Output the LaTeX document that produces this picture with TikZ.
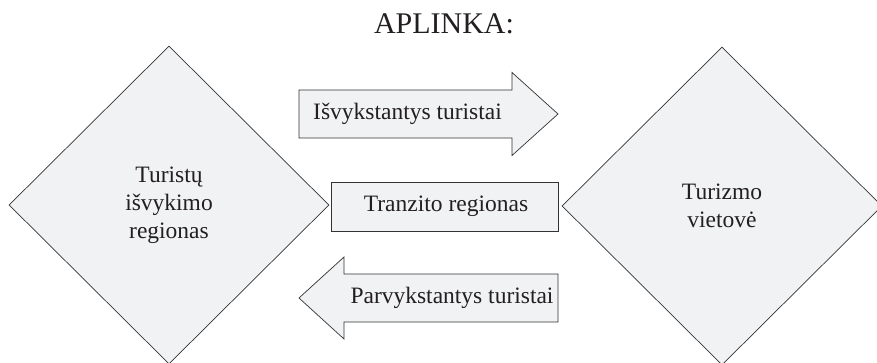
\documentclass[tikz,border=0pt]{standalone}
\usepackage{fontspec}
\setmainfont{Liberation Serif}
\usetikzlibrary{shapes.geometric}
\definecolor{boxfill}{HTML}{F1F2F4}
\definecolor{edge}{HTML}{333333}
\definecolor{ink}{HTML}{231F20}
\begin{document}
\begin{tikzpicture}[x=1pt,y=-1pt,
  region/.style={diamond,draw=edge,fill=boxfill,line width=0.7pt,inner sep=0pt,
    minimum width=320pt,minimum height=318pt,align=center,text=ink,
    font=\fontsize{23.5}{28}\selectfont},
  flowshape/.style={draw=edge,fill=boxfill,line width=0.7pt,line join=miter},
  label/.style={text=ink,inner sep=0pt,font=\fontsize{23.5}{28}\selectfont}]
\clip (0,0) rectangle (877,363);
% title
\node[text=ink,font=\fontsize{30}{36}\selectfont] (title) at (444,24) {APLINKA:};
% origin and destination regions
\node[region] (origin) at (169,205) {Turistų\\išvykimo\\regionas};
\node[region] (dest) at (722,206) {Turizmo\\vietovė};
% outbound arrow
\draw[flowshape] (299,90) -- (512,90) -- (512,72.5) -- (558,114) -- (512,155.5)
  -- (512,138) -- (299,138) -- cycle;
\node[label] (out) at (407.5,114) {Išvykstantys turistai};
% transit region box
\draw[flowshape] (331,182) rectangle (558,231);
\node[label] (transit) at (446,206.5) {Tranzito regionas};
% return arrow
\draw[flowshape] (558,274) -- (344,274) -- (344,257) -- (299,298) -- (344,339)
  -- (344,322) -- (558,322) -- cycle;
\node[label] (back) at (452,298) {Parvykstantys turistai};
\end{tikzpicture}
\end{document}
